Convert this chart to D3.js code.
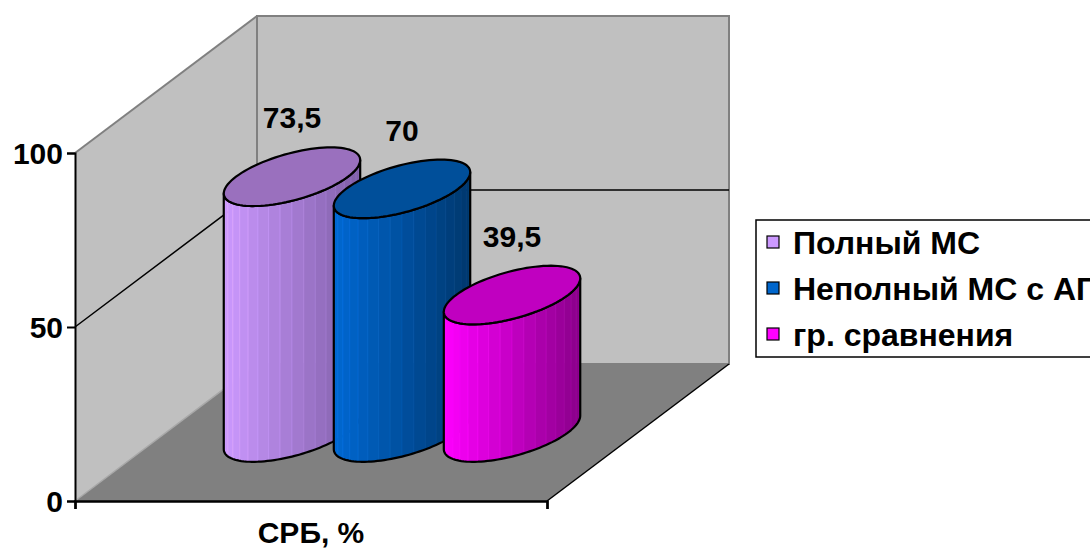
<!DOCTYPE html>
<html>
<head>
<meta charset="utf-8">
<script src="https://cdn.jsdelivr.net/npm/d3@7"></script>
<style>
  html, body { margin: 0; padding: 0; background: #fff; }
  svg { display: block; }
  text { font-family: "Liberation Sans", Arial, sans-serif; font-weight: bold; fill: #000; }
</style>
</head>
<body>
<script>
// Chart data
const categories = ["СРБ, %"];
const seriesNames = ["Полный МС", "Неполный МС с АГ", "гр. сравнения"];
const seriesValues = [73.5, 70, 39.5];
const yTickValues = [0, 50, 100];

// Palette: side gradient (light -> dark), top face, legend swatch
const sideLight = ["#cc99ff", "#0068d2", "#ff00ff"];
const sideDark  = ["#7e5ea6", "#00376c", "#880088"];
const topFill   = ["#9a70be", "#004f9a", "#c000c0"];
const swatch    = ["#cc99ff", "#0066cc", "#ff00ff"];

const W = 1090, H = 551;
const svg = d3.select("body").append("svg").attr("width", W).attr("height", H);

// Front plane of the 3D box and the depth offset vector
const x0 = 75, x1 = 547, yBottom = 501, yTop = 153;
const DX = 182, DY = -137;

const y = d3.scaleLinear().domain([0, 100]).range([yBottom, yTop]);
const xCat = d3.scaleBand().domain(categories).range([x0, x1]);
const xSer = d3.scalePoint().domain(seriesNames).range([x0, x1]).padding(1.145);

const P = (xf, v, d) => [xf + d * DX, y(v) + d * DY];
const poly = pts => "M" + pts.map(p => p.join(",")).join("L") + "Z";

// Walls and floor
const wallFill = "#c0c0c0", floorFill = "#808080", edge = "#808080";
svg.append("path").attr("d", poly([P(x0, 0, 0), P(x0, 100, 0), P(x0, 100, 1), P(x0, 0, 1)]))
  .attr("fill", wallFill);
svg.append("path").attr("d", poly([P(x0, 0, 1), P(x0, 100, 1), P(x1, 100, 1), P(x1, 0, 1)]))
  .attr("fill", wallFill).attr("stroke", edge).attr("stroke-width", 2);
svg.append("path").attr("d", poly([P(x0, 0, 0), P(x1, 0, 0), P(x1, 0, 1), P(x0, 0, 1)]))
  .attr("fill", floorFill);

// Wall edges
const line = d3.line();
svg.append("path").attr("d", line([P(x0, 100, 0), P(x0, 100, 1)]))
  .attr("stroke", edge).attr("stroke-width", 2).attr("fill", "none");
svg.append("path").attr("d", line([P(x0, 0, 0), P(x0, 0, 1)]))
  .attr("stroke", "#a8a8a8").attr("stroke-width", 1.5).attr("fill", "none");

// Gridlines (between 0 and 100)
yTickValues.filter(v => v > 0 && v < 100).forEach(v => {
  svg.append("path").attr("d", line([P(x0, v, 0), P(x0, v, 1), P(x1, v, 1)]))
    .attr("stroke", "#000").attr("stroke-width", 1.5).attr("fill", "none");
});

// Floor right edge
svg.append("path").attr("d", line([P(x1, 0, 0), P(x1, 0, 1)]))
  .attr("stroke", "#000").attr("stroke-width", 1.5).attr("fill", "none");

// Y axis
const yAxis = svg.append("g").attr("transform", `translate(${x0},0)`)
  .call(d3.axisLeft(y).tickValues(yTickValues).tickSize(8).tickPadding(4).tickFormat(d3.format("d")));
yAxis.select(".domain").attr("stroke", "#000").attr("stroke-width", 2);
yAxis.selectAll(".tick line").attr("stroke", "#000").attr("stroke-width", 2);
yAxis.selectAll(".tick text").style("font-size", "30px").attr("font-family", null).attr("dy", "0.36em");

// X axis along the front edge of the floor
const xEdge = d3.scaleLinear().domain([0, 1]).range([x0, x1]);
const xAxis = svg.append("g").attr("transform", `translate(0,${yBottom})`)
  .call(d3.axisBottom(xEdge).tickValues([0, 1]).tickSize(8).tickFormat(""));
xAxis.select(".domain").attr("stroke", "#000").attr("stroke-width", 2.5);
xAxis.selectAll(".tick line").attr("stroke", "#000").attr("stroke-width", 2);

svg.selectAll(".cat-label").data(categories).join("text")
  .attr("class", "cat-label")
  .attr("x", d => xCat(d) + xCat.bandwidth() / 2)
  .attr("y", 543)
  .attr("text-anchor", "middle")
  .style("font-size", "30px")
  .text(d => d);

// Cylinders
const rx = 56, rz = 0.214, dMid = 0.5;
const thR = Math.atan2(rz * DX, rx);
const thL = thR + Math.PI;
const thEnd = thR + 2 * Math.PI;
function ell(cx, v, th) {
  return [cx + rx * Math.cos(th) + rz * DX * Math.sin(th) + dMid * DX,
          y(v) + dMid * DY + rz * DY * Math.sin(th)];
}
const halfW = Math.hypot(rx, rz * DX);
const NF = 18;

seriesNames.forEach((name, i) => {
  const cx = xSer(name);
  const v = seriesValues[i];
  const g = svg.append("g");
  const interp = d3.interpolateRgb(sideLight[i], sideDark[i]);
  // faceted side
  for (let k = 0; k < NF; k++) {
    const a = thL + (thEnd - thL) * k / NF;
    const b = thL + (thEnd - thL) * (k + 1) / NF;
    const pts = [ell(cx, v, a), ell(cx, v, b), ell(cx, 0, b), ell(cx, 0, a)];
    const xm = (pts[0][0] + pts[1][0]) / 2;
    const c0 = cx + dMid * DX;
    const t = (xm - (c0 - halfW)) / (2 * halfW);
    const col = interp(t);
    g.append("path").attr("d", poly(pts)).attr("fill", col)
      .attr("stroke", d3.color(col).brighter(0.3)).attr("stroke-width", 0.7);
  }
  // outline of the side
  const arc = (val, from, to, n) => d3.range(n + 1).map(j => ell(cx, val, from + (to - from) * j / n));
  const outline = [...arc(0, thL, thEnd, 60), ...arc(v, thEnd, thL, 60)];
  g.append("path").attr("d", poly(outline)).attr("fill", "none")
    .attr("stroke", "#000").attr("stroke-width", 2.2).attr("stroke-linejoin", "round");
  // top face
  const topPts = d3.range(96).map(j => ell(cx, v, 2 * Math.PI * j / 96));
  g.append("path").attr("d", poly(topPts)).attr("fill", topFill[i])
    .attr("stroke", "#000").attr("stroke-width", 2.2);
});

// Value labels above each cylinder
const fmt = d3.formatLocale({ decimal: ",", thousands: " ", grouping: [3], currency: ["", ""] }).format(".1~f");
svg.selectAll(".val").data(seriesNames).join("text")
  .attr("class", "val")
  .attr("x", (d, i) => xSer(d) + dMid * DX)
  .attr("y", (d, i) => y(seriesValues[i]) + dMid * DY + rz * DY - 19)
  .attr("text-anchor", "middle")
  .style("font-size", "30px")
  .text((d, i) => fmt(seriesValues[i]));

// Legend
const lg = svg.append("g");
lg.append("rect").attr("x", 756).attr("y", 220).attr("width", 400).attr("height", 137)
  .attr("fill", "#fff").attr("stroke", "#000").attr("stroke-width", 1.5);
const rowY = d3.scalePoint().domain(seriesNames).range([242, 334]);
seriesNames.forEach((name, i) => {
  lg.append("rect").attr("x", 767).attr("y", rowY(name) - 6).attr("width", 12).attr("height", 12)
    .attr("fill", swatch[i]).attr("stroke", "#000").attr("stroke-width", 1.2);
  lg.append("text").attr("x", 793).attr("y", rowY(name)).attr("dy", "0.36em")
    .style("font-size", "32px").text(name);
});
</script>
</body>
</html>
